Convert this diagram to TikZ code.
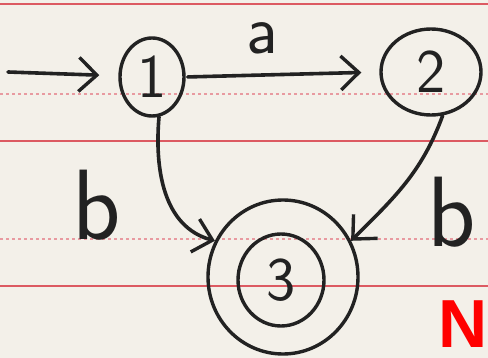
\documentclass[tikz,border=0pt]{standalone}
\usepackage{fontspec}
\newfontfamily\redfont{Liberation Sans}
\usetikzlibrary{arrows.meta,shapes.geometric}
\definecolor{paper}{HTML}{F3F0E9}
\definecolor{rule}{HTML}{DC5A62}
\definecolor{ruledot}{HTML}{E89AA0}
\definecolor{ink}{HTML}{222222}
\tikzset{
  state/.style={ellipse,draw=ink,line width=3.4pt,inner sep=0pt,font=\sffamily\fontsize{62}{62}\selectfont,text=ink},
  ring/.style={ellipse,draw=ink,line width=3.4pt,inner sep=0pt},
  edge/.style={draw=ink,line width=3.6pt,line cap=round,-{Straight Barb[length=18pt,width=34pt,line width=3.4pt]}},
  lbl/.style={font=\sffamily\fontsize{70}{70}\selectfont,text=ink,inner sep=0pt},
  blbl/.style={font=\sffamily\fontsize{100}{100}\selectfont,text=ink,inner sep=0pt},
  solidrule/.style={draw=rule,line width=2.4pt},
  dotrule/.style={draw=ruledot,line width=1.2pt,dash pattern=on 3pt off 3pt}
}
\begin{document}
\begin{tikzpicture}[x=1pt,y=-1pt]
\useasboundingbox (0,0) rectangle (488,358);
\clip (0,0) rectangle (488,358);
\fill[paper] (0,0) rectangle (488,358);
% ruled lines
\draw[solidrule] (0,4) -- (488,4);
\draw[dotrule] (0,94) -- (488,94);
\draw[solidrule] (0,141) -- (488,141);
\draw[dotrule] (0,239) -- (488,239);
\draw[solidrule] (0,286) -- (488,286);
% states
\node[state,minimum width=64pt,minimum height=78pt] (n1) at (152,77) {1};
\node[state,minimum width=100pt,minimum height=86pt] (n2) at (431,72) {2};
\node[ring,minimum width=150pt,minimum height=154pt] (n3) at (283,277) {};
\node[state,minimum width=86pt,minimum height=92pt] (n3in) at (281,280) {3};
\coordinate (start) at (8,72);
% transitions
\draw[edge,shorten >=19pt] (start) -- (n1);
\draw[edge,shorten <=2pt,shorten >=18pt] (n1.east) -- (n2.west);
\draw[edge] (n1.-80) to[out=-95,in=165] (n3.152);
\draw[edge] (n2.-75) to[out=-110,in=45] (n3.28);
% labels
\node[lbl] (la) at (262,38) {a};
\node[blbl] (lb1) at (97,205) {b};
\node[blbl] (lb2) at (452,212) {b};
% red text
\node[anchor=base west,inner sep=0pt,text=red,font=\redfont\bfseries\fontsize{68}{68}\selectfont] (no) at (438,348) {NO};
\end{tikzpicture}
\end{document}
